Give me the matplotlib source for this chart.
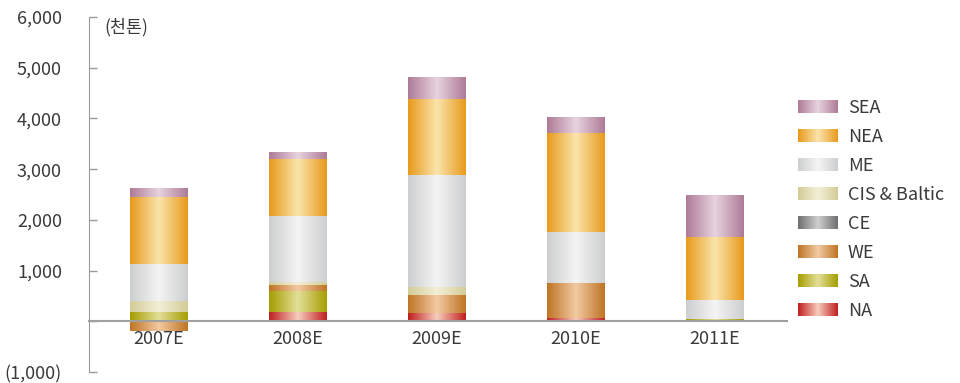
import numpy as np
import matplotlib
matplotlib.use('Agg')
import matplotlib.pyplot as plt
from matplotlib.colors import LinearSegmentedColormap
from matplotlib.legend_handler import HandlerBase
from matplotlib.image import BboxImage
from matplotlib.transforms import Bbox, TransformedBbox
from matplotlib.ticker import FuncFormatter

plt.rcParams['font.family'] = ['Noto Sans CJK KR', 'DejaVu Sans']

years = ['2007E', '2008E', '2009E', '2010E', '2011E']
regions = ['NA', 'SA', 'WE', 'CE', 'CIS & Baltic', 'ME', 'NEA', 'SEA']

# thousand tonnes
na = [30, 178, 165, 65, 0]
sa = [155, 416, 0, 0, 40]
we = [-200, 120, 350, 690, 0]
ce = [0, 0, 0, 0, 0]
cis = [210, 60, 160, 0, 0]
me = [735, 1307, 2200, 1010, 380]
nea = [1325, 1110, 1505, 1940, 1240]
sea = [180, 140, 435, 320, 830]
series = [na, sa, we, ce, cis, me, nea, sea]

# (edge colour, centre colour) for the cylinder-like shading
shades = {
    'NA': ('#bf1e1e', '#f8cdbd'),
    'SA': ('#a59d00', '#e3df98'),
    'WE': ('#bf7424', '#f2caa2'),
    'CE': ('#6e6e70', '#cfcfd0'),
    'CIS & Baltic': ('#d3cc98', '#f3efd6'),
    'ME': ('#cdcecf', '#f4f4f4'),
    'NEA': ('#e89a1c', '#fae4ac'),
    'SEA': ('#ad7b97', '#e8d3df'),
}


def make_cmap(name):
    edge, mid = shades[name]
    return LinearSegmentedColormap.from_list(name, [edge, mid, edge])


grad = np.linspace(0, 1, 256).reshape(1, -1)


class GradHandler(HandlerBase):
    def create_artists(self, legend, orig_handle, xdescent, ydescent,
                       width, height, fontsize, trans):
        bb = TransformedBbox(Bbox.from_bounds(-xdescent, -ydescent, width, height), trans)
        img = BboxImage(bb, cmap=orig_handle.cmap, interpolation='bicubic')
        img.set_data(grad)
        return [img]


class GradProxy(object):
    def __init__(self, cmap):
        self.cmap = cmap


fig = plt.figure(figsize=(9.6, 3.83), dpi=100)
ax = fig.add_axes([89 / 960, 1 - 372 / 383, (787 - 89) / 960, (372 - 17) / 383])

x = np.arange(len(years))
width = 0.41
pos_base = np.zeros(len(years))
neg_base = np.zeros(len(years))
for name, vals in zip(regions, series):
    vals = np.array(vals, dtype=float)
    bottoms = np.where(vals >= 0, pos_base, neg_base)
    bars = ax.bar(x, vals, width, bottom=bottoms, color='none', linewidth=0, zorder=2)
    cmap = make_cmap(name)
    for b in bars:
        if b.get_height() == 0:
            continue
        x0, y0 = b.get_x(), b.get_y()
        x1, y1 = x0 + b.get_width(), y0 + b.get_height()
        im = ax.imshow(grad, cmap=cmap, aspect='auto', extent=[x0, x1, min(y0, y1), max(y0, y1)],
                       interpolation='bicubic', zorder=2)
        im.set_clip_path(b)
    pos_base += np.where(vals > 0, vals, 0)
    neg_base += np.where(vals < 0, vals, 0)

ax.set_xlim(-0.5, 4.52)
ax.set_ylim(-1000, 6000)
ax.set_yticks(np.arange(-1000, 6001, 1000))
ax.yaxis.set_major_formatter(FuncFormatter(
    lambda v, p: '' if v == 0 else ('({:,.0f})'.format(-v) if v < 0 else '{:,.0f}'.format(v))))
ax.tick_params(axis='y', direction='in', length=6, width=1, color='#9a9a9a',
               labelsize=13, labelcolor='#3a3a3a', pad=19.5)

ax.set_xticks(x)
ax.set_xticklabels(years)
ax.tick_params(axis='x', length=0, labelsize=13, labelcolor='#3a3a3a', pad=6)

for s in ['top', 'right']:
    ax.spines[s].set_visible(False)
ax.spines['left'].set_color('#9a9a9a')
ax.spines['bottom'].set_position(('data', 0))
ax.spines['bottom'].set_color('#a0a0a0')
ax.spines['bottom'].set_linewidth(1.5)
ax.spines['bottom'].set_zorder(3)

ax.text(0.022, 0.997, '(천톤)', transform=ax.transAxes, fontsize=12.5, color='#3a3a3a',
        ha='left', va='top')

handles = [GradProxy(make_cmap(n)) for n in regions[::-1]]
leg = fig.legend(handles, regions[::-1], handler_map={GradProxy: GradHandler()},
                 loc='upper left', bbox_to_anchor=(782 / 960, 1 - 83 / 383), frameon=False,
                 fontsize=13, labelcolor='#3a3a3a', handlelength=2.2, handleheight=0.72,
                 labelspacing=0.61, handletextpad=0.55)

fig.savefig('out.png', dpi=100)
